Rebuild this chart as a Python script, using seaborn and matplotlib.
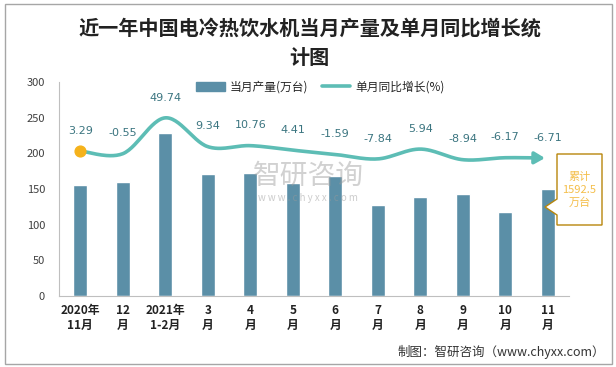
import numpy as np
import pandas as pd
import matplotlib
matplotlib.use('Agg')
import matplotlib.pyplot as plt
import seaborn as sns
from matplotlib.lines import Line2D
from matplotlib.patches import Patch, Polygon, Rectangle

sns.set_style('white')
plt.rcParams['font.family'] = ['Noto Sans CJK SC', 'DejaVu Sans']

# data
months = ['2020年\n11月', '12\n月', '2021年\n1-2月', '3\n月', '4\n月', '5\n月',
          '6\n月', '7\n月', '8\n月', '9\n月', '10\n月', '11\n月']
output = [155.6, 160, 229, 171, 173, 159, 168, 128, 139, 143, 118, 150]
growth = [3.29, -0.55, 49.74, 9.34, 10.76, 4.41, -1.59, -7.84, 5.94, -8.94, -6.17, -6.71]
total_label = '累计\n1592.5\n万台'

bar_color = '#5B8FA7'
line_color = '#5DBDB5'
label_color = '#3B7580'

df = pd.DataFrame({'月份': months, '产量': output, '增长': growth})

W, H = 616, 367
fig = plt.figure(figsize=(W / 100, H / 100), dpi=100)
ax = fig.add_axes([0.0958, 0.1935, 0.8279, 0.5831])

sns.barplot(data=df, x='月份', y='产量', color=bar_color, width=0.33,
            saturation=1, ax=ax)
ax.set_xlim(-0.5, len(months) - 0.5)
ax.set_ylim(0, 300)
ax.set_yticks(range(0, 301, 50))
ax.set_xlabel('')
ax.set_ylabel('')
ax.tick_params(axis='y', labelsize=8, colors='#404040', length=0, pad=10)
ax.tick_params(axis='x', labelsize=8.5, colors='#222222', length=0, pad=6)
for lbl in ax.get_xticklabels():
    lbl.set_fontweight('bold')
ax.set_xticks(np.arange(-0.5, len(months), 1), minor=True)
ax.tick_params(axis='x', which='minor', length=4, color='#BFBFBF')
for s in ['top', 'right']:
    ax.spines[s].set_visible(False)
ax.spines['left'].set_color('#BFBFBF')
ax.spines['bottom'].set_color('#BFBFBF')

# growth line on hidden secondary axis (smoothed like the original)
ax2 = ax.twinx()
ax2.set_ylim(-200, 100)
ax2.axis('off')
xs = np.arange(len(growth), dtype=float)
ys = np.array(growth, dtype=float)
px = np.concatenate([[xs[0]], xs, [xs[-1]]])
py = np.concatenate([[ys[0]], ys, [ys[-1]]])
cx, cy = [], []
t = np.linspace(0, 1, 30)
for i in range(1, len(px) - 2):
    for arr, out in ((px, cx), (py, cy)):
        p0, p1, p2, p3 = arr[i - 1], arr[i], arr[i + 1], arr[i + 2]
        out.extend(0.5 * (2 * p1 + (-p0 + p2) * t + (2 * p0 - 5 * p1 + 4 * p2 - p3) * t ** 2
                          + (-p0 + 3 * p1 - 3 * p2 + p3) * t ** 3))
cx, cy = np.array(cx), np.array(cy)
ax2.plot(cx[:-8], cy[:-8], color=line_color, lw=2.6, solid_capstyle='round')
ax2.annotate('', xy=(cx[-1], cy[-1]), xytext=(cx[-12], cy[-12]),
             arrowprops=dict(arrowstyle='-|>,head_length=0.6,head_width=0.35',
                             color=line_color, lw=2.6))
ax2.scatter([xs[0]], [ys[0]], s=60, color='#F5B21B', zorder=5)
for x, v in zip(xs, growth):
    ax2.annotate(f'{v:.2f}', (x, v), xytext=(0, 11), textcoords='offset points',
                 ha='center', va='bottom', fontsize=8, color=label_color,
                 family=['DejaVu Sans'])

# callout box for cumulative value (pixel coords, measured from top)
pts = [(557, 154), (602, 154), (602, 225), (557, 225), (557, 215),
       (545, 207), (557, 199)]
box = Polygon([(x / W, 1 - y / H) for x, y in pts], closed=True, facecolor='white',
              edgecolor='#B8860B', lw=1, transform=fig.transFigure, zorder=6)
fig.patches.append(box)
fig.text(579.5 / W, 1 - 190 / H, total_label, ha='center', va='center',
         fontsize=8, color='#F4BE4A', linespacing=1.35, zorder=7)

# legend
handles = [Patch(color=bar_color, label='当月产量(万台)'),
           Line2D([0], [0], color=line_color, lw=2.6, label='单月同比增长(%)')]
fig.legend(handles=handles, loc='center', bbox_to_anchor=(0.52, 1 - 87 / H),
           ncol=2, frameon=False, fontsize=8.5, handlelength=2.4,
           columnspacing=1.2, handletextpad=0.4)

# watermark
fig.text(0.5, 1 - 176 / H, '智研咨询', ha='center', va='center', fontsize=20,
         color='#9A9A9A', alpha=0.45)
fig.text(0.5, 1 - 198 / H, 'w w w . c h y x x . c o m', ha='center', va='center',
         fontsize=7, color='#9A9A9A', alpha=0.5)

fig.text(0.503, 1 - 28 / H, '近一年中国电冷热饮水机当月产量及单月同比增长统',
         ha='center', va='center', fontsize=14.5, fontweight='bold', color='#222222')
fig.text(0.503, 1 - 58 / H, '计图', ha='center', va='center', fontsize=14.5,
         fontweight='bold', color='#222222')
fig.text(0.982, 1 - 352 / H, '制图：智研咨询（www.chyxx.com）', ha='right',
         va='center', fontsize=9, color='#333333')

# outer frame
fig.patches.append(Rectangle((5 / W, 3 / H), 607 / W, 360 / H, fill=False,
                             edgecolor='#A6A6A6', lw=1, transform=fig.transFigure))

fig.savefig('out.png', dpi=100)
